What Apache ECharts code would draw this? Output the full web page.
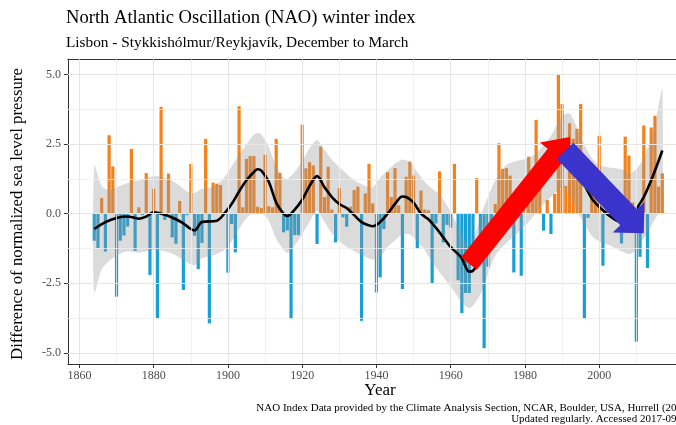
<!DOCTYPE html>
<html><head><meta charset="utf-8">
<script src="https://cdn.jsdelivr.net/npm/echarts@6/dist/echarts.min.js"></script>
<style>html,body{margin:0;padding:0;background:#fff;overflow:hidden}#c{width:676px;height:425px}</style>
</head><body><div id="c"></div>
<script>
// ---- data ----
const years = [1864,1865,1866,1867,1868,1869,1870,1871,1872,1873,1874,1875,1876,1877,1878,1879,
1880,1881,1882,1883,1884,1885,1886,1887,1888,1889,1890,1891,1892,1893,1894,1895,1896,1897,1898,1899,
1900,1901,1902,1903,1904,1905,1906,1907,1908,1909,1910,1911,1912,1913,1914,1915,1916,1917,1918,1919,
1920,1921,1922,1923,1924,1925,1926,1927,1928,1929,1930,1931,1932,1933,1934,1935,1936,1937,1938,1939,
1940,1941,1942,1943,1944,1945,1946,1947,1948,1949,1950,1951,1952,1953,1954,1955,1956,1957,1958,1959,
1960,1961,1962,1963,1964,1965,1966,1967,1968,1969,1970,1971,1972,1973,1974,1975,1976,1977,1978,1979,
1980,1981,1982,1983,1984,1985,1986,1987,1988,1989,1990,1991,1992,1993,1994,1995,1996,1997,1998,1999,
2000,2001,2002,2003,2004,2005,2006,2007,2008,2009,2010,2011,2012,2013,2014,2015,2016,2017];
const nao = [-0.97,-1.23,0.56,-1.36,2.82,1.70,-2.98,-0.97,-0.78,-0.46,2.33,-1.33,0.23,-0.05,1.46,-2.20,
0.90,-3.76,3.84,-0.22,1.44,-0.85,-1.08,0.46,-2.74,-0.05,1.79,-0.79,-1.99,-1.05,2.69,-3.94,1.12,1.08,1.03,0.05,
-2.12,-0.37,-1.39,3.86,0.23,1.97,2.07,2.07,0.25,0.20,2.12,0.27,0.23,2.69,1.47,-0.67,-0.60,-3.77,-0.77,-0.77,
3.20,1.63,1.85,1.73,-1.09,2.41,0.60,1.69,0.15,-1.03,0.92,-0.13,-0.47,0.25,0.85,0.97,-3.85,0.73,1.79,0.37,
-2.83,-2.29,-0.55,1.49,0.60,1.64,0.30,-2.71,1.33,1.87,1.37,-1.25,0.83,0.15,0.12,-2.50,-0.35,1.52,-1.03,-0.40,
-0.50,1.79,-2.39,-3.57,-2.85,-2.85,-1.70,1.28,-1.20,-4.83,-1.90,-1.10,0.35,2.53,1.61,1.64,1.37,-2.11,-0.15,-2.23,
0.50,2.05,0.80,3.37,1.20,-0.61,0.49,-0.73,0.71,5.02,3.94,1.00,3.25,2.69,3.05,3.94,-3.77,-0.15,1.00,1.67,
2.80,-1.87,0.76,0.20,0.10,0.12,-1.07,2.77,2.09,0.40,-4.60,-1.55,3.17,-1.95,3.10,3.52,0.97,1.45];

const smoothYears = [1864,1867,1870,1873,1876,1878,1880,1882,1884,1886,1888,1890,1891,1893,1897,1899,1901,1903,1905,1907,1908,1909,1911,1913,1915,1916,1918,1920,1922,1924,1926,1928,1930,1932,1934,1936,1938,1939,1941,1943,1945,1947,1948,1950,1952,1954,1956,1958,1960,1962,1963,1965,1966,1968,1970,1972,1975,1978,1981,1984,1987,1990,1992,1994,1996,1998,2000,2003,2006,2008,2010,2012,2014,2016,2017];
const smoothNao = [-0.55,-0.3,-0.15,-0.1,-0.18,-0.1,0.05,0.0,-0.08,-0.2,-0.35,-0.55,-0.6,-0.3,-0.25,0.0,0.35,0.8,1.2,1.5,1.6,1.55,1.15,0.4,0.0,-0.08,0.15,0.5,1.0,1.35,0.95,0.6,0.35,0.2,-0.05,-0.3,-0.42,-0.45,-0.3,0.0,0.35,0.62,0.6,0.4,0.0,-0.2,-0.5,-0.85,-1.2,-1.45,-1.6,-2.08,-2.05,-1.6,-0.9,-0.3,0.3,0.65,0.95,1.35,1.8,2.2,2.1,1.6,1.05,0.55,0.25,-0.1,-0.3,-0.15,0.17,0.6,1.2,1.9,2.27];

const bandYears = [1864,1866,1868,1870,1873,1876,1880,1883,1886,1889,1891,1893,1896,1899,1901,1903,1905,1907,1908,1909,1911,1913,1915,1916,1918,1920,1922,1924,1926,1928,1931,1934,1937,1939,1941,1943,1945,1947,1949,1951,1953,1955,1957,1959,1961,1963,1965,1966,1968,1970,1972,1975,1978,1981,1984,1987,1990,1992,1994,1996,1998,2000,2003,2006,2008,2010,2012,2014,2015,2016,2017];
const bandUpper = [1.75,1.0,0.85,0.95,1.1,1.2,1.35,1.3,1.1,0.8,0.75,0.9,0.95,1.3,1.7,2.1,2.5,2.85,2.9,2.85,2.4,1.7,1.3,1.25,1.5,1.9,2.35,2.65,2.3,1.95,1.55,1.2,1.0,0.95,1.3,1.55,1.8,1.95,1.85,1.5,1.15,0.9,0.7,0.3,-0.2,-0.75,-1.2,-1.0,-0.1,0.6,1.2,1.75,1.9,2.0,2.3,2.8,3.5,3.6,3.1,2.5,2.0,1.75,1.65,1.6,1.45,1.6,2.0,2.7,3.2,3.9,4.5];
const bandLower = [-2.85,-2.0,-1.7,-1.5,-1.35,-1.4,-1.3,-1.35,-1.5,-1.75,-1.85,-1.6,-1.5,-1.3,-1.0,-0.55,-0.15,0.05,0.1,0.05,-0.25,-0.9,-1.3,-1.4,-1.15,-0.75,-0.3,0.1,-0.3,-0.7,-1.1,-1.35,-1.55,-1.65,-1.55,-1.2,-0.95,-0.75,-0.75,-1.0,-1.3,-1.75,-2.1,-2.45,-2.8,-3.2,-3.4,-3.3,-2.9,-2.2,-1.5,-1.05,-0.7,-0.3,0.2,0.6,0.95,0.7,0.1,-0.35,-0.8,-1.0,-1.15,-1.35,-1.45,-1.3,-0.9,-0.45,-0.2,0.0,0.1];

const xTickValues = [1860,1880,1900,1920,1940,1960,1980,2000];
const yTickValues = [-5,-2.5,0,2.5,5];
const xMajorGrid = [1860,1880,1900,1920,1940,1960,1980,2000];
const xMinorGrid = [1870,1890,1910,1930,1950,1970,1990,2010];
const yMajorGrid = [-5,-2.5,0,2.5,5];
const yMinorGrid = [-3.75,-1.25,1.25,3.75];

// annotation arrows (start / end in data units)
const arrowFrom = [[1964.9,-1.79],[1990.8,2.26]];
const arrowTo   = [[1992.1,2.76],[2012.0,-0.70]];

const titleText = 'North Atlantic Oscillation (NAO) winter index';
const subtitleText = 'Lisbon - Stykkishólmur/Reykjavík, December to March';
const yTitle = 'Difference of normalized sea level pressure';
const xTitle = 'Year';
const caption1 = 'NAO Index Data provided by the Climate Analysis Section, NCAR, Boulder, USA, Hurrell (2003).';
const caption2 = 'Updated regularly. Accessed 2017-09-26.';

// ---- styles ----
const ORANGE = '#F4811A', BLUE = '#17A0D6';
const SERIF = "'Liberation Serif', 'DejaVu Serif', serif";
const FRAME = '#333333';
const ARROW_STYLE = [
  {fill:'#FF0000', shaft:10, headLen:23, headHalf:20},
  {fill:'#3A33CC', shaft:11.5, headLen:22, headHalf:22}
];

const chart = echarts.init(document.getElementById('c'), null, {renderer:'canvas'});

function bandRender(params, api){
  const pts = [];
  for (let i=0;i<bandYears.length;i++) pts.push(api.coord([bandYears[i], bandUpper[i]]));
  for (let i=bandYears.length-1;i>=0;i--) pts.push(api.coord([bandYears[i], bandLower[i]]));
  return {type:'polygon', shape:{points:pts, smooth:0.25}, style:{fill:'rgba(150,150,150,0.34)'}};
}
function arrowRender(params, api){
  const i = params.dataIndex;
  const st = ARROW_STYLE[i];
  const p0 = api.coord(arrowFrom[i]), p1 = api.coord(arrowTo[i]);
  const dx = p1[0]-p0[0], dy = p1[1]-p0[1];
  const L = Math.sqrt(dx*dx+dy*dy);
  const ux = dx/L, uy = dy/L, nx = -uy, ny = ux;
  const bx = p1[0]-ux*st.headLen, by = p1[1]-uy*st.headLen;
  const pts = [
    [p0[0]+nx*st.shaft, p0[1]+ny*st.shaft],
    [bx+nx*st.shaft, by+ny*st.shaft],
    [bx+nx*st.headHalf, by+ny*st.headHalf],
    [p1[0], p1[1]],
    [bx-nx*st.headHalf, by-ny*st.headHalf],
    [bx-nx*st.shaft, by-ny*st.shaft],
    [p0[0]-nx*st.shaft, p0[1]-ny*st.shaft]
  ];
  return {type:'polygon', shape:{points:pts}, style:{fill:st.fill}};
}

const gridLineData = []
  .concat(yMajorGrid.map(v=>({yAxis:v, lineStyle:{color:'#E6E6E6', width:1.1, type:'solid'}})))
  .concat(yMinorGrid.map(v=>({yAxis:v, lineStyle:{color:'#EEEEEE', width:0.8, type:'solid'}})))
  .concat(xMajorGrid.map(v=>({xAxis:v, lineStyle:{color:'#E6E6E6', width:1.1, type:'solid'}})))
  .concat(xMinorGrid.map(v=>({xAxis:v, lineStyle:{color:'#EEEEEE', width:0.8, type:'solid'}})));

const axisLabelStyle = {color:'#4D4D4D', fontFamily:SERIF, fontSize:12};
const X_MIN = 1856.9, X_MAX = 2020.68;

chart.setOption({
  animation:false,
  backgroundColor:'#ffffff',
  grid:{left:67.9, right:0, top:59.25, bottom:61, show:false},
  xAxis:[
    {type:'value', min:X_MIN, max:X_MAX, position:'bottom',
     splitLine:{show:false}, axisLine:{show:true, onZero:false, lineStyle:{color:FRAME, width:1}},
     axisTick:{show:true, customValues:xTickValues, length:4, lineStyle:{color:FRAME}},
     axisLabel:Object.assign({customValues:xTickValues, margin:6, formatter:v=>String(v)}, axisLabelStyle)},
    {type:'value', min:X_MIN, max:X_MAX, position:'top',
     splitLine:{show:false}, axisLine:{show:true, onZero:false, lineStyle:{color:FRAME, width:1}},
     axisTick:{show:false}, axisLabel:{show:false}}
  ],
  yAxis:{type:'value', min:-5.4, max:5.55,
    splitLine:{show:false}, axisLine:{show:true, onZero:false, lineStyle:{color:FRAME, width:1}},
    axisTick:{show:true, customValues:yTickValues, length:4, lineStyle:{color:FRAME}},
    axisLabel:Object.assign({customValues:yTickValues, margin:7, formatter:v=>v.toFixed(1)}, axisLabelStyle)},
  graphic:[
    {type:'text', x:66, y:18, style:{text:titleText, font:'18.6px '+SERIF, fill:'#000', textVerticalAlign:'middle'}},
    {type:'text', x:66, y:43, style:{text:subtitleText, font:'15.3px '+SERIF, fill:'#000', textVerticalAlign:'middle'}},
    {type:'text', x:18, y:214, rotation:Math.PI/2, style:{text:yTitle, font:'16.8px '+SERIF, fill:'#000', textAlign:'center', textVerticalAlign:'middle'}},
    {type:'text', x:380, y:391, style:{text:xTitle, font:'17px '+SERIF, fill:'#000', textAlign:'center', textVerticalAlign:'middle'}},
    {type:'text', x:694, y:408, style:{text:caption1, font:'11px '+SERIF, fill:'#000', textAlign:'right', textVerticalAlign:'middle'}},
    {type:'text', x:694, y:419, style:{text:caption2, font:'11px '+SERIF, fill:'#000', textAlign:'right', textVerticalAlign:'middle'}}
  ],
  series:[
    {type:'line', data:[[1860,0]], symbol:'none', lineStyle:{opacity:0}, z:0, silent:true,
     markLine:{silent:true, symbol:['none','none'], label:{show:false}, animation:false, data:gridLineData}},
    {type:'bar', data:years.map((y,i)=>[y,nao[i]]), barWidth:3.2, z:2,
     itemStyle:{color:p=>p.value[1]>=0?ORANGE:BLUE}},
    {type:'custom', renderItem:bandRender, data:[0], z:3, silent:true},
    {type:'line', data:smoothYears.map((y,i)=>[y,smoothNao[i]]), smooth:0.35, showSymbol:false, symbol:'none', z:4,
     lineStyle:{color:'#000', width:2.6}},
    {type:'custom', renderItem:arrowRender, data:[0,1], z:5, silent:true}
  ]
});
</script></body></html>
